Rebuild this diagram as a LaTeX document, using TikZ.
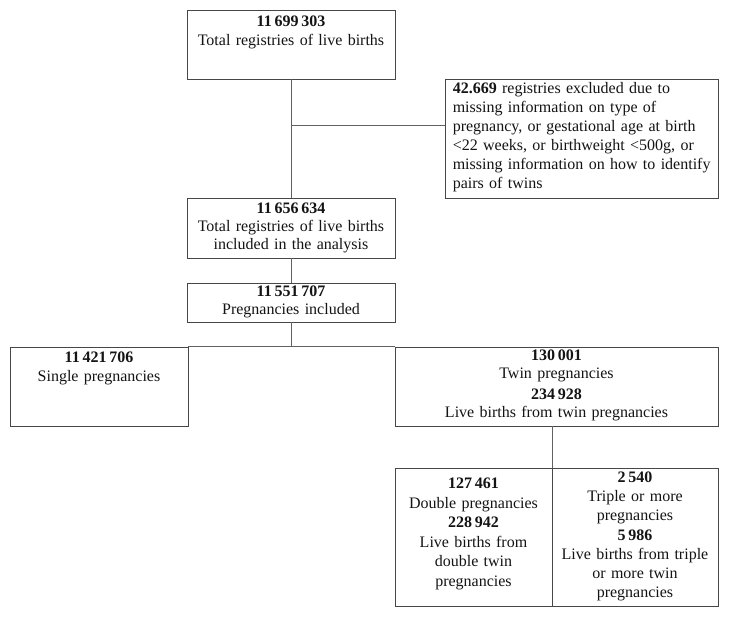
\documentclass[tikz,border=0pt]{standalone}
\usepackage{fontspec}
\setmainfont{Liberation Serif}
\usetikzlibrary{calc}
\newcommand{\ns}{\hspace{0.17em}}
\begin{document}
\begin{tikzpicture}[x=1pt,y=1pt,
  frame/.style={draw=black!72, line width=0.9pt, inner sep=0pt},
  link/.style={draw=black!62, line width=0.9pt},
  txt/.style={inner sep=0pt, anchor=base, align=center, text=black!92,
              font=\fontsize{16}{19}\selectfont}]
\useasboundingbox (0,0) rectangle (729,-618);
\fill[white] (0,0) rectangle (729,-618);
% frames
\node[frame, minimum width=208pt, minimum height=69pt]  (b1) at (291,-44.5) {};
\node[frame, minimum width=273pt, minimum height=119pt] (ex) at (581.5,-138.5) {};
\node[frame, minimum width=208pt, minimum height=60pt]  (b2) at (291,-228) {};
\node[frame, minimum width=208pt, minimum height=39pt]  (b3) at (291,-302.5) {};
\node[frame, minimum width=178pt, minimum height=79pt]  (sg) at (99,-386.5) {};
\node[frame, minimum width=323pt, minimum height=79pt]  (tw) at (556.5,-386.5) {};
\node[frame, minimum width=157pt, minimum height=138pt] (db) at (473.5,-537) {};
\node[frame, minimum width=166pt, minimum height=138pt] (tr) at (635,-537) {};
% texts
\node[txt, text width=200pt] (t1) at ($(b1.north)+(0,-17)$)
  {\textbf{11\ns699\ns303}\\Total registries of live births};
\node[txt, text width=262pt, align=left, anchor=base west] (tex) at ($(ex.north west)+(8,-15)$)
  {\textbf{42.669} registries excluded due to\\missing information on type of\\pregnancy, or gestational age at birth\\<22 weeks, or birthweight <500g, or\\missing information on how to identify\\pairs of twins};
\node[txt, text width=200pt, font=\fontsize{16}{18.3}\selectfont] (t2) at ($(b2.north)+(0,-15.5)$)
  {\textbf{11\ns656\ns634}\\Total registries of live births\\included in the analysis};
\node[txt, text width=200pt, font=\fontsize{16}{18.5}\selectfont] (t3) at ($(b3.north)+(0,-13.5)$)
  {\textbf{11\ns551\ns707}\\Pregnancies included};
\node[txt, text width=170pt] (tsg) at ($(sg.north)+(0,-16)$)
  {\textbf{11\ns421\ns706}\\Single pregnancies};
\node[txt, text width=315pt, font=\fontsize{16}{17.5}\selectfont] (ttw) at ($(tw.north)+(0,-14)$)
  {\textbf{130\ns001}\\Twin pregnancies\\[4pt]\textbf{234\ns928}\\Live births from twin pregnancies};
\node[txt, text width=150pt, font=\fontsize{16}{19.6}\selectfont] (tdb) at ($(db.north)+(0,-21)$)
  {\textbf{127\ns461}\\Double pregnancies\\\textbf{228\ns942}\\Live births from\\double twin\\pregnancies};
\node[txt, text width=160pt, font=\fontsize{16}{19.2}\selectfont] (ttr) at ($(tr.north)+(0,-15)$)
  {\textbf{2\ns540}\\Triple or more\\pregnancies\\\textbf{5\ns986}\\Live births from triple\\or more twin\\pregnancies};
% connectors
\coordinate (br) at ($(b1.south)+(0,-46)$);
\draw[link] (b1.south) -- (b2.north);
\draw[link] (br) -- (br -| ex.west);
\draw[link] (b2.south) -- (b3.north);
\draw[link] (b3.south) -- (b3.south |- sg.north);
\draw[link] (sg.north east) -- (tw.north west);
\draw[link] (db.north east) -- (db.north east |- tw.south);
\end{tikzpicture}
\end{document}
